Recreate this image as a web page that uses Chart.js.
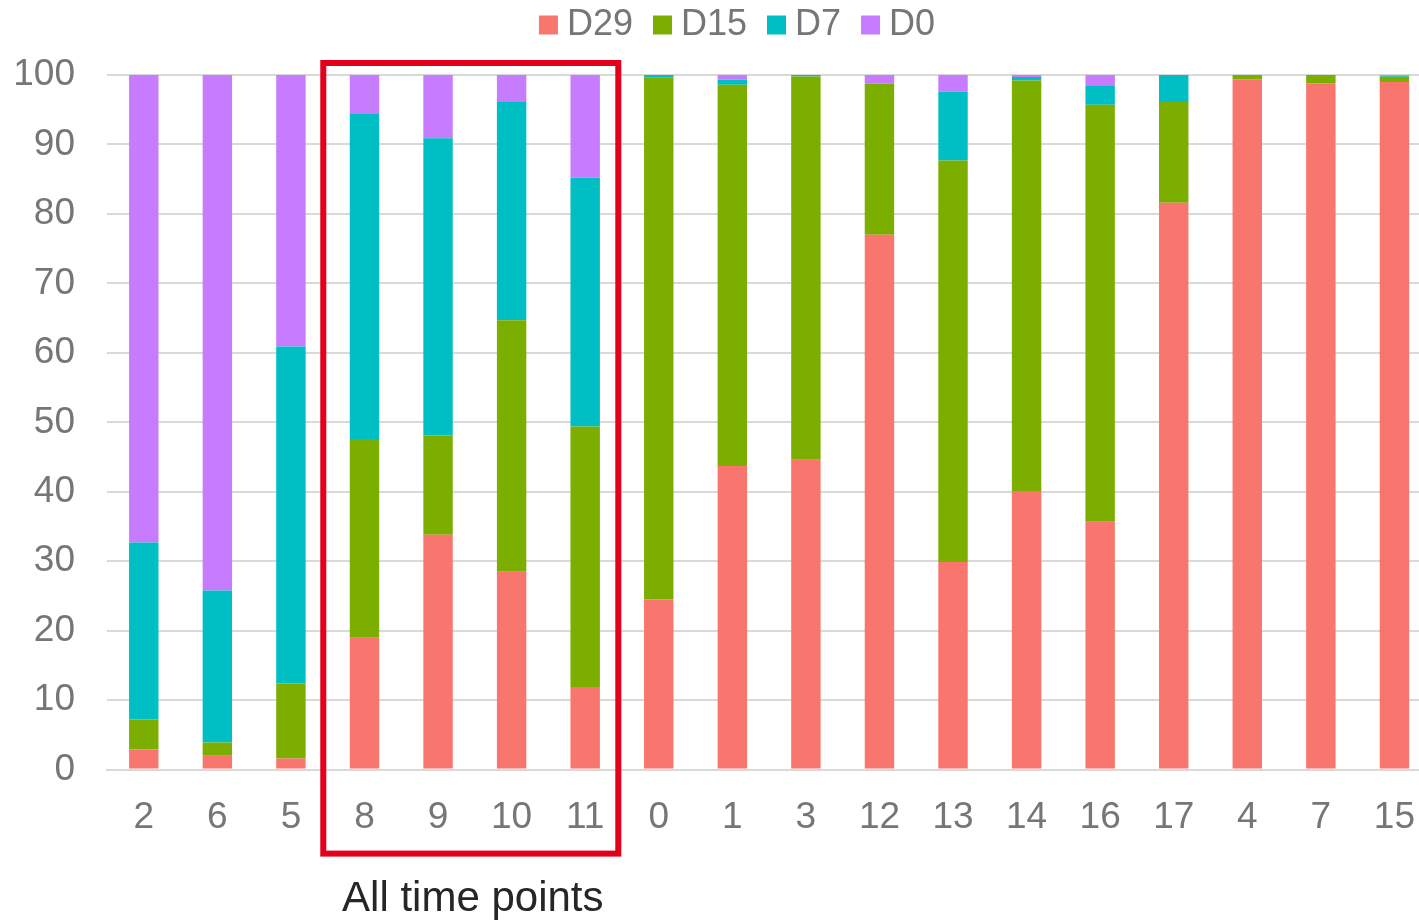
<!DOCTYPE html>
<html lang="en">

<head>
    <meta charset="UTF-8">
    <title>Time point composition</title>
    <style>
        html,
        body {
            margin: 0;
            padding: 0;
            overflow: hidden;
            background: #fff;
        }
    </style>
    <script src="https://cdn.jsdelivr.net/npm/chart.js"></script>
</head>

<body>
    <canvas id="myChart" width="1441" height="922"></canvas>

    <script>
        const categories = ['2', '6', '5', '8', '9', '10', '11', '0', '1', '3', '12', '13', '14', '16', '17', '4', '7', '15'];
        const d29 = [2.9, 2.0, 1.6, 19.0, 33.8, 28.5, 11.9, 24.5, 43.7, 44.6, 77.0, 29.9, 40.1, 35.7, 81.6, 99.4, 98.8, 99.0];
        const d15 = [4.3, 1.9, 10.8, 28.6, 14.3, 36.2, 37.5, 75.1, 54.9, 55.2, 21.75, 57.8, 59.1, 60.0, 14.5, 0.6, 1.2, 0.75];
        const d7 = [25.5, 21.9, 48.5, 46.8, 42.8, 31.4, 35.8, 0.4, 0.7, 0.2, 0, 9.9, 0.5, 2.7, 3.9, 0, 0, 0.15];
        const d0 = [67.3, 74.2, 39.1, 5.6, 9.1, 3.9, 14.8, 0, 0.7, 0, 1.25, 2.4, 0.3, 1.6, 0, 0, 0, 0.1];
        const yTicks = [0, 10, 20, 30, 40, 50, 60, 70, 80, 90, 100];
        const boxFrom = '8';
        const boxTo = '11';
        const boxLabel = 'All time points';

        const FONT = "'Liberation Sans', Arial, sans-serif";

        // red frame round the "all time points" group, with its caption
        const boxPlugin = {
            id: 'boxPlugin',
            afterDraw(chart) {
                const x = chart.scales.x;
                const y = chart.scales.y;
                const ctx = chart.ctx;
                const step = x.getPixelForValue(1) - x.getPixelForValue(0);
                const left = x.getPixelForValue(categories.indexOf(boxFrom)) - step * 0.56;
                const right = x.getPixelForValue(categories.indexOf(boxTo)) + step * 0.45;
                const top = y.getPixelForValue(100) - 12;
                const bottom = chart.chartArea.bottom + 84;
                ctx.save();
                ctx.strokeStyle = '#e3001b';
                ctx.lineWidth = 6;
                ctx.strokeRect(left, top, right - left, bottom - top);
                ctx.fillStyle = '#262626';
                ctx.font = '42px ' + FONT;
                ctx.textAlign = 'center';
                ctx.textBaseline = 'alphabetic';
                ctx.fillText(boxLabel, (left + right) / 2 + 2, bottom + 57);
                ctx.restore();
            }
        };

        // legend: wide gaps between items but tight box-to-text spacing,
        // so the padding is big and the whole thing is pulled back up
        const legendTweak = {
            id: 'legendTweak',
            beforeInit(chart) {
                const legend = chart.legend;
                const fit = legend.fit;
                legend.fit = function () {
                    fit.bind(legend)();
                    this.height += 0;
                };
                const draw = legend.draw;
                legend.draw = function () {
                    chart.ctx.save();
                    chart.ctx.translate(21, -22);
                    draw.apply(legend, arguments);
                    chart.ctx.restore();
                };
            }
        };

        function makeSet(label, data, color) {
            return {
                label: label,
                data: data,
                backgroundColor: color,
                borderWidth: 0,
                categoryPercentage: 1,
                barPercentage: 0.4
            };
        }

        const ctx = document.getElementById('myChart').getContext('2d');
        const chart = new Chart(ctx, {
            type: 'bar',
            data: {
                labels: categories,
                datasets: [
                    makeSet('D29', d29, '#F8766D'),
                    makeSet('D15', d15, '#7CAE00'),
                    makeSet('D7', d7, '#00BFC4'),
                    makeSet('D0', d0, '#C77CFF')
                ]
            },
            plugins: [legendTweak, boxPlugin],
            options: {
                responsive: false,
                animation: false,
                layout: {
                    padding: { left: 0, right: 0, top: 0, bottom: 56 }
                },
                plugins: {
                    legend: {
                        position: 'top',
                        labels: {
                            usePointStyle: true,
                            pointStyle: 'rect',
                            boxWidth: 1,
                            boxHeight: 19,
                            padding: 29,
                            color: '#767676',
                            font: { family: FONT, size: 36 }
                        }
                    },
                    tooltip: { enabled: false }
                },
                scales: {
                    x: {
                        stacked: true,
                        grid: { display: false, drawTicks: false },
                        border: { display: true, color: '#d9d9d9', width: 2 },
                        ticks: {
                            color: '#767676',
                            padding: 26,
                            maxRotation: 0,
                            autoSkip: false,
                            font: { family: FONT, size: 37 }
                        }
                    },
                    y: {
                        stacked: true,
                        min: 0,
                        max: 100,
                        afterBuildTicks(axis) {
                            axis.ticks = yTicks.map(v => ({ value: v }));
                        },
                        afterFit(axis) {
                            axis.width = 107;
                        },
                        grid: { color: '#d9d9d9', lineWidth: 2, drawTicks: false },
                        border: { display: false },
                        ticks: {
                            color: '#767676',
                            padding: 32,
                            font: { family: FONT, size: 37 }
                        }
                    }
                }
            }
        });
    </script>
</body>

</html>
